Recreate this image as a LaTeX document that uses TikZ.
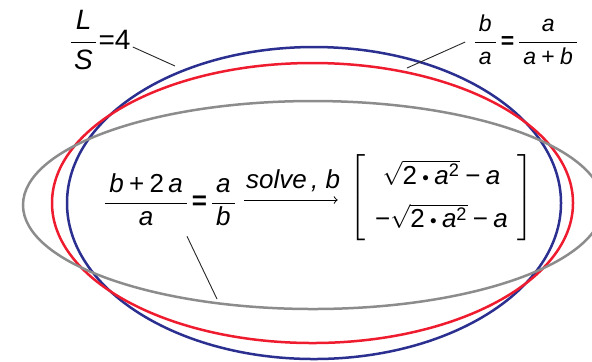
\documentclass[tikz,border=0pt]{standalone}
\usepackage{amsmath}
\usepackage{fontspec}
\setmainfont{Liberation Sans}
\usepackage{tikz}
\usetikzlibrary{positioning}
\definecolor{ringblue}{HTML}{2B2F8F}
\definecolor{ringred}{HTML}{EE1C2E}
\definecolor{ringgray}{HTML}{8C8C8C}
\newcommand{\vv}[1]{\textit{#1}}
\newcommand{\mdot}{\mathbin{\vcenter{\hbox{\scalebox{0.55}{$\bullet$}}}}}
\newcommand{\mminus}{\mathbin{\text{\textminus}}}
\begin{document}
\begin{tikzpicture}[x=0.5pt, y=-0.5pt,
    ring/.style={line width=1.25pt},
    leader/.style={line width=0.45pt, black!85},
    eqn/.style={inner sep=0pt, font=\fontsize{13}{15}\selectfont}]
  \useasboundingbox (0,0) rectangle (592,361);
  \clip (0,0) rectangle (592,361);
  % Three ellipses, gray on top
  \draw[ring, ringblue] (314,203) ellipse [x radius=123.5pt, y radius=78pt];
  \draw[ring, ringred] (312.5,203) ellipse [x radius=130.25pt, y radius=70pt];
  \draw[ring, ringgray] (313,205) ellipse [x radius=145pt, y radius=52pt];
  % Labels at top
  \node[eqn, font=\fontsize{14}{16}\selectfont] (ratio) at (99.5,40)
    {$\dfrac{\,\vv{L}\,}{\vv{S}}\text{=4}$};
  \node[eqn, font=\fontsize{11.5}{13}\selectfont] (golden) at (526,40)
    {$\dfrac{\,\vv{b}\,}{\vv{a}}\mkern2mu\textbf{=}\mkern2mu\dfrac{\vv{a}}{\,\vv{a}\mathbin{\text{+}}\vv{b}\,}$};
  % Main equation and its result
  \node[eqn] (lhs) at (170,200)
    {$\dfrac{\,\vv{b}\mathbin{\text{+}}\text{2\,}\vv{a}\,}{\vv{a}}\mkern2mu\textbf{=}\mkern2mu\dfrac{\,\vv{a}\,}{\vv{b}}$};
  \node[eqn] (res) at (441.5,197.5)
    {$\renewcommand{\arraystretch}{1.45}\left[\begin{array}{@{\hspace{5pt}}c@{\hspace{5pt}}}
      \sqrt{\text{2}\mdot\vv{a}^{\text{2}}}\mminus\vv{a}\\
      \text{\textminus}\sqrt{\text{2}\mdot\vv{a}^{\text{2}}}\mminus\vv{a}
      \end{array}\right]$};
  % Arrow with the solve keyword
  \draw[->, line width=0.5pt, shorten <=3.3pt, shorten >=5.5pt] (lhs.east) --
    node[above, eqn, yshift=4pt] {\itshape solve\,,\;b} (lhs.east -| res.west);
  % Leader lines
  \coordinate (onblue) at (175,66);
  \coordinate (onred) at (407,68);
  \coordinate (ongray) at (217,299);
  \draw[leader] ([xshift=1pt,yshift=-3.5pt]ratio.east) -- (onblue);
  \draw[leader] ([xshift=-3.5pt,yshift=-1pt]golden.west) -- (onred);
  \draw[leader] ([xshift=8.5pt,yshift=-5pt]lhs.south) -- (ongray);
\end{tikzpicture}
\end{document}
